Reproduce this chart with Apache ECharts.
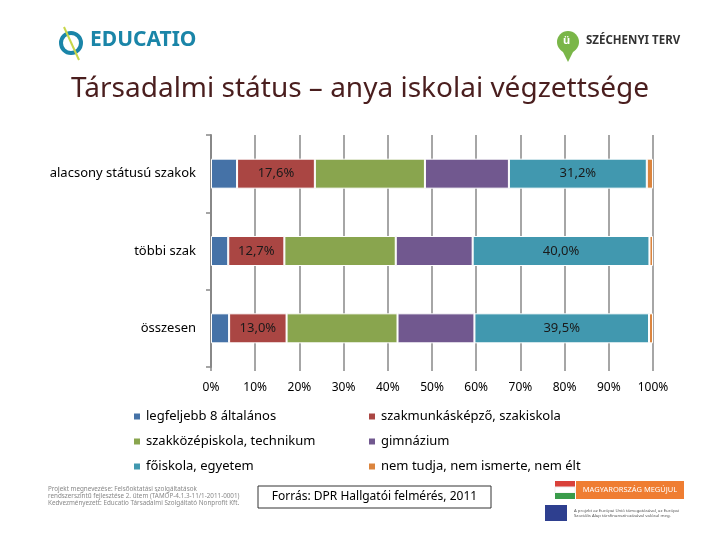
<!DOCTYPE html>
<html>
<head>
<meta charset="utf-8">
<script src="https://cdn.jsdelivr.net/npm/echarts@6/dist/echarts.min.js"></script>
<style>
  body { margin: 0; background: #fff; }
  #main { width: 720px; height: 540px; }
</style>
</head>
<body>
<div id="main"></div>
<script>
// kategóriák (felülről lefelé)
var categories = ["alacsony státusú szakok", "többi szak", "összesen"];

var seriesNames = [
  "legfeljebb 8 általános",
  "szakmunkásképző, szakiskola",
  "szakközépiskola, technikum",
  "gimnázium",
  "főiskola, egyetem",
  "nem tudja, nem ismerte, nem élt"
];

var colors = ["#4572a7", "#aa4643", "#89a54e", "#71588f", "#4198af", "#db843d"];

var alap8 = [5.9, 3.9, 4.1];
var szakmunkas = [17.6, 12.7, 13.0];
var szakkozep = [24.9, 25.2, 25.1];
var gimnazium = [19.0, 17.4, 17.4];
var foiskola = [31.2, 40.0, 39.5];
var nemtudja = [1.4, 0.8, 0.9];

var values = [alap8, szakmunkas, szakkozep, gimnazium, foiskola, nemtudja];
var labelled = [false, true, false, false, true, false];

var font = "Noto Sans";

var chart = echarts.init(document.getElementById("main"));

var series = [];
for (var i = 0; i < seriesNames.length; i++) {
  series.push({
    name: seriesNames[i],
    type: "bar",
    stack: "total",
    barWidth: 30,
    itemStyle: { color: colors[i], borderColor: "#fff", borderWidth: 1 },
    label: {
      show: labelled[i],
      position: "inside",
      color: "#1a1a1a",
      fontFamily: font,
      fontSize: 13,
      formatter: function (p) {
        return p.value.toFixed(1).replace(".", ",") + "%";
      }
    },
    data: values[i]
  });
}

var legendStyle = {
  orient: "vertical",
  top: 405,
  itemWidth: 8,
  itemHeight: 8,
  itemGap: 12,
  icon: "rect",
  textStyle: { fontFamily: font, fontSize: 13, color: "#000" }
};

var option = {
  animation: false,
  color: colors,
  title: {
    text: "Társadalmi státus – anya iskolai végzettsége",
    left: "center",
    top: 70,
    textStyle: { fontFamily: font, fontSize: 28, fontWeight: "normal", color: "#4a1e1e" }
  },
  legend: [
    Object.assign({ left: 127, data: [seriesNames[0], seriesNames[2], seriesNames[4]] }, legendStyle),
    Object.assign({ left: 362, data: [seriesNames[1], seriesNames[3], seriesNames[5]] }, legendStyle)
  ],
  grid: { left: 211, right: 67, top: 135, bottom: 173 },
  xAxis: {
    type: "value",
    min: 0,
    max: 100,
    interval: 10,
    axisLine: { show: false },
    axisTick: { show: true, length: 4, lineStyle: { color: "#888", width: 1.5 } },
    splitLine: { show: true, lineStyle: { color: "#888", width: 1.5 } },
    axisLabel: {
      margin: 15,
      fontFamily: font,
      fontSize: 12,
      color: "#000",
      formatter: "{value}%"
    }
  },
  yAxis: {
    type: "category",
    inverse: true,
    data: categories,
    axisLine: { show: true, lineStyle: { color: "#888", width: 2 } },
    axisTick: { show: true, length: 5, lineStyle: { color: "#888", width: 1.5 } },
    axisLabel: { margin: 15, fontFamily: font, fontSize: 13, color: "#000" }
  },
  graphic: [
    // EDUCATIO logó
    { type: "circle", shape: { cx: 71, cy: 43, r: 10 }, style: { fill: "none", stroke: "#1a85a8", lineWidth: 4 } },
    { type: "line", shape: { x1: 64, y1: 27, x2: 79, y2: 60 }, style: { stroke: "#c8d64a", lineWidth: 2 } },
    { type: "text", left: 90, top: 30, style: { text: "EDUCATIO", fontFamily: font, fontWeight: "bold", fontSize: 21, fill: "#1a85a8" } },
    // Széchenyi terv logó
    { type: "circle", shape: { cx: 568, cy: 42, r: 11 }, style: { fill: "#7ab648" } },
    { type: "polygon", shape: { points: [[562, 50], [574, 50], [568, 62]] }, style: { fill: "#7ab648" } },
    { type: "text", left: 563, top: 35, style: { text: "ü", fontFamily: font, fontWeight: "bold", fontSize: 11, fill: "#fff" } },
    { type: "text", left: 586, top: 35, style: { text: "SZÉCHENYI TERV", fontFamily: font, fontWeight: "bold", fontSize: 11.5, fill: "#333" } },
    // lábléc
    { type: "text", left: 48, top: 486, style: {
        text: "Projekt megnevezése: Felsőoktatási szolgáltatások\nrendszerszintű fejlesztése 2. ütem (TÁMOP-4.1.3-11/1-2011-0001)\nKedvezményezett: Educatio Társadalmi Szolgáltató Nonprofit Kft.",
        fontFamily: font, fontSize: 6.3, lineHeight: 7, fill: "#888" } },
    { type: "rect", shape: { x: 258, y: 486, width: 233, height: 22 }, style: { fill: "#fff", stroke: "#333", lineWidth: 1 } },
    { type: "text", x: 374.5, y: 497, style: { text: "Forrás: DPR Hallgatói felmérés, 2011", align: "center", verticalAlign: "middle", fontFamily: font, fontSize: 12, fill: "#000" } },
    { type: "rect", shape: { x: 555, y: 481, width: 20, height: 6 }, style: { fill: "#d9413a" } },
    { type: "rect", shape: { x: 555, y: 487, width: 20, height: 6 }, style: { fill: "#fff", stroke: "#eee" } },
    { type: "rect", shape: { x: 555, y: 493, width: 20, height: 6 }, style: { fill: "#3a9b4a" } },
    { type: "rect", shape: { x: 576, y: 481, width: 108, height: 18 }, style: { fill: "#ef7d32" } },
    { type: "text", x: 630, y: 490, style: { text: "MAGYARORSZÁG MEGÚJUL", align: "center", verticalAlign: "middle", fontFamily: font, fontSize: 7.5, fill: "#fff" } },
    { type: "rect", shape: { x: 545, y: 505, width: 22, height: 16 }, style: { fill: "#2e3f8f" } },
    { type: "text", left: 574, top: 508, style: {
        text: "A projekt az Európai Unió támogatásával, az Európai\nSzociális Alap társfinanszírozásával valósul meg.",
        fontFamily: font, fontSize: 4.3, lineHeight: 5, fill: "#555" } }
  ],
  series: series
};

chart.setOption(option);
</script>
</body>
</html>
